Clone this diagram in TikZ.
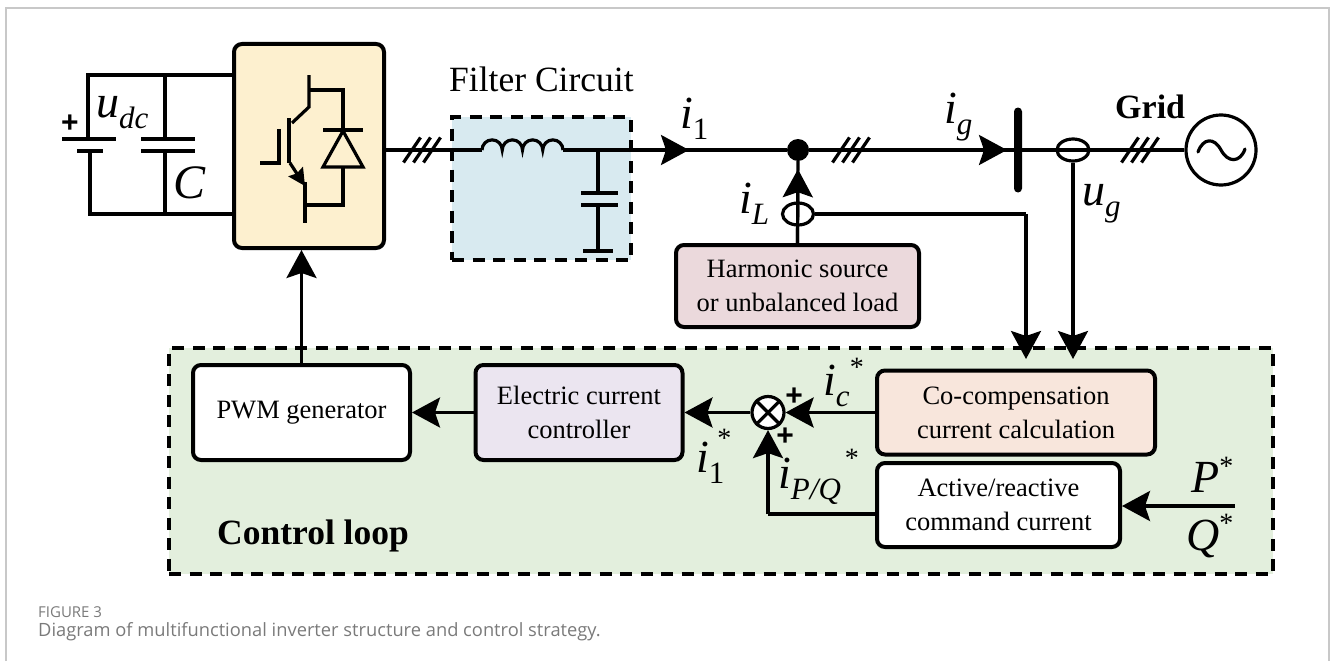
\documentclass[tikz,border=0pt]{standalone}
\usepackage{fontspec}
\setmainfont{Liberation Serif}
\newfontfamily\capfont{Open Sans}
\newfontfamily\signfont{Liberation Sans}
\usetikzlibrary{shapes.geometric, arrows.meta}
\definecolor{convfill}{HTML}{FDF0CF}
\definecolor{filterfill}{HTML}{D8EAF0}
\definecolor{loadfill}{HTML}{EBD9DC}
\definecolor{loopfill}{HTML}{E3EFDD}
\definecolor{ctrlfill}{HTML}{EBE5F0}
\definecolor{compfill}{HTML}{F8E6DC}
\definecolor{framegray}{HTML}{C8C8C8}
\definecolor{capgray}{HTML}{7A7A7A}
\tikzstyle{wire} = [line width=3.2pt]
\tikzstyle{arrow} = [line width=3.2pt,-{Stealth[length=28pt,width=30pt,inset=5pt]}]
\tikzstyle{block} = [rectangle, rounded corners=8pt, line width=4pt, draw=black, align=center, font=\fontsize{26.5}{34}\selectfont, inner sep=0pt]
\tikzstyle{dashbox} = [rectangle, line width=3.5pt, draw=black, dash pattern=on 12pt off 8.5pt, inner sep=0pt]
\tikzstyle{sensor} = [ellipse, draw=black, line width=3.2pt, minimum width=31pt, minimum height=22pt, inner sep=0pt]
\tikzstyle{lab} = [anchor=base west, inner sep=0pt, font=\fontsize{46}{46}\selectfont]
\tikzstyle{sign} = [inner sep=0pt, font=\signfont\bfseries\fontsize{30}{30}\selectfont]
\newcommand{\cursym}[3]{\textit{#1}\raisebox{-11pt}{\fontsize{31}{31}\selectfont #2}#3}
\newcommand{\cstar}[2]{\hspace{#1}\raisebox{#2}{\fontsize{28}{28}\selectfont *}}

\begin{document}
\begin{tikzpicture}[node distance=100pt, x=1pt, y=-1pt]
\useasboundingbox (0,0) rectangle (1330,661);
\draw [framegray, line width=1.5pt] (6,661) -- (6,8) -- (1329,8) -- (1329,661);

% blocks
\node (loop) [dashbox, fill=loopfill, minimum width=1104pt, minimum height=226pt] at (721,461) {};
\node (conv) [block, fill=convfill, minimum width=150pt, minimum height=204pt] at (309,146) {};
\node (filter) [dashbox, fill=filterfill, minimum width=179pt, minimum height=143pt, right of=conv, xshift=132.5, yshift=-42.5] {};
\node (load) [block, fill=loadfill, minimum width=243pt, minimum height=82pt, right of=filter, xshift=156, yshift=-97.5] {Harmonic source\\or unbalanced load};
\node (pwm) [block, fill=white, minimum width=217pt, minimum height=95pt, below of=conv, xshift=-7.5, yshift=-166.5] {PWM generator};
\node (ctrl) [block, fill=ctrlfill, minimum width=207pt, minimum height=95pt, right of=pwm, xshift=177.5] {Electric current\\controller};
\node (sum) [circle, draw=black, line width=3.2pt, fill=white, minimum size=32pt, inner sep=0pt, right of=ctrl, xshift=89] {};
\node (comp) [block, fill=compfill, minimum width=278pt, minimum height=84pt, right of=sum, xshift=148] {Co-compensation\\current calculation};
\node (cmd) [block, fill=white, minimum width=243pt, minimum height=84pt, below of=comp, xshift=-17.5, yshift=7.5] {Active/reactive\\command current};

% grid side
\node (dot) [circle, fill=black, minimum size=22pt, inner sep=0pt] at (798,150) {};
\node (bus) [rectangle, rounded corners=4pt, fill=black, minimum width=8pt, minimum height=85pt, inner sep=0pt] at (1018,150) {};
\node (sensg) [sensor, minimum width=32pt] at (1073,150) {};
\node (sensl) [sensor] at (798,214) {};
\node (source) [circle, draw=black, line width=3.2pt, minimum size=70pt, inner sep=0pt] at (1221,150) {};
\coordinate (lstart) at (482,150);
\coordinate (lend) at (563,150);
\coordinate (itip) at (689,150);
\coordinate (gtip) at (1007,150);
\coordinate (ltapdrop) at (1026,214);
\coordinate (ltip) at (1026,359);
\coordinate (gdrop) at (1073,359);
\coordinate (pqin) at (1235,506);
\coordinate (pqturn) at (768,514);

\draw [wire] (conv.east |- dot) -- (lstart);
\draw [wire] (lstart) \foreach \hump in {1,2,3,4} {arc [start angle=180, end angle=0, radius=10.125pt]};
\draw [wire] (lend) -- (dot);
\draw [arrow] (lend) -- (itip);
\draw [wire] (dot) -- (bus);
\draw [arrow] (dot) -- (gtip);
\draw [wire] (bus) -- (source);
\draw [wire] (load.north) -- (dot);
\draw [arrow, shorten >=8pt] (load.north) -- (dot.south);
\draw [wire] (sensl.east) -- (ltapdrop);
\draw [arrow] (ltapdrop) -- (ltip);
\draw [arrow] (sensg.south) -- (gdrop);
\draw [wire, line cap=round] (1198,152) .. controls (1203,138) and (1214,137) .. (1221,150) .. controls (1228,163) and (1240,163) .. (1245,149);

% three phase marks
\foreach \tx in {422,851,1140} {
  \foreach \off in {-10,0,10} {
    \draw [wire] (\tx+\off-8.5,162.5) -- (\tx+\off+8.5,137.5);
  }
}

% control loop
\draw [arrow] (pwm.north) -- (pwm.north |- conv.south);
\draw [arrow] (ctrl) -- (pwm);
\draw [arrow] (sum) -- (ctrl);
\draw [arrow] (comp) -- (sum);
\draw [wire] (cmd.west |- pqturn) -- (pqturn);
\draw [arrow] (pqturn) -- (sum);
\draw [arrow] (pqin) -- (cmd.east |- pqin);
\draw [wire] (sum.45) -- (sum.225);
\draw [wire] (sum.135) -- (sum.315);

% dc side
\coordinate (battop) at (88,139);
\coordinate (batbot) at (90,151);
\coordinate (captop) at (165,139);
\coordinate (capbot) at (165,151);
\draw [wire] (battop) -- (88,75) -- (234,75);
\draw [wire] (batbot) -- (90,214) -- (234,214);
\draw [wire] (captop) -- (165,75);
\draw [wire] (capbot) -- (165,214);
\draw [wire] (62,139) -- (116,139);
\draw [wire] (77,151) -- (103,151);
\draw [wire] (141,139) -- (195,139);
\draw [wire] (141,151) -- (195,151);

% switch inside the converter
\draw [wire] (309,75) -- (309,107) -- (292,123);
\draw [wire] (289,118) -- (289,163);
\draw [wire] (279,129) -- (279,163) -- (260,163);
\draw [wire, -{Stealth[length=17pt,width=17pt,inset=2pt]}] (290,163) -- (305,186);
\draw [wire] (305,182) -- (305,223);
\draw [wire] (309,90) -- (343,90) -- (343,130);
\draw [wire] (323,130) -- (363,130);
\draw [wire, line join=miter] (343,131) -- (323,167) -- (363,167) -- cycle;
\draw [wire] (343,167) -- (343,205) -- (305,205);

% filter branch
\draw [wire] (598,150) -- (598,193);
\draw [wire] (581,193) -- (618,193);
\draw [wire] (581,205) -- (618,205);
\draw [wire] (598,205) -- (598,251);
\draw [wire] (583,251) -- (613,251);

% labels
\node (filtertxt) [lab, font=\fontsize{35.5}{35.5}\selectfont] at (449,92) {Filter Circuit};
\node (gridtxt) [lab, font=\bfseries\fontsize{34}{34}\selectfont] at (1115,118) {Grid};
\node (looptxt) [lab, font=\bfseries\fontsize{35.5}{35.5}\selectfont] at (217,544) {Control loop};
\node (plus) [sign] at (70,124) {+};
\node (udc) [lab] at (96,117) {\cursym{u}{\textit{dc}}{}};
\node (ctxt) [lab, font=\fontsize{48}{48}\selectfont] at (173,198) {\textit{C}};
\node (ione) [lab] at (680,128) {\cursym{i}{1}{}};
\node (iload) [lab] at (739,213) {\cursym{i}{\textit{L}}{}};
\node (igrid) [lab] at (944,123) {\cursym{i}{\textit{g}}{}};
\node (ugrid) [lab] at (1082,205) {\cursym{u}{\textit{g}}{}};
\node (icstar) [lab] at (823,395) {\cursym{i}{\textit{c}}{\cstar{0pt}{19pt}}};
\node (iostar) [lab] at (696,472) {\cursym{i}{1}{\cstar{-7pt}{25pt}}};
\node (ipqstar) [lab] at (778,488) {\cursym{i}{\textit{P/Q}}{\cstar{4pt}{21pt}}};
\node (pstar) [lab] at (1191,492) {\textit{P}\raisebox{17pt}{\fontsize{28}{28}\selectfont *}};
\node (qstar) [lab] at (1186,550) {\textit{Q}\raisebox{18pt}{\fontsize{28}{28}\selectfont *}};
\node (plusc) [sign] at (794,397) {+};
\node (pluspq) [sign] at (785,437) {+};

% caption
\node (figno) [anchor=base west, inner sep=0pt, text=capgray, font=\capfont\fontsize{15}{15}\selectfont] at (38,617) {FIGURE 3};
\node (captxt) [anchor=base west, inner sep=0pt, text=capgray, font=\capfont\fontsize{18.3}{18.3}\selectfont] at (38,636) {Diagram of multifunctional inverter structure and control strategy.};
\end{tikzpicture}
\end{document}
